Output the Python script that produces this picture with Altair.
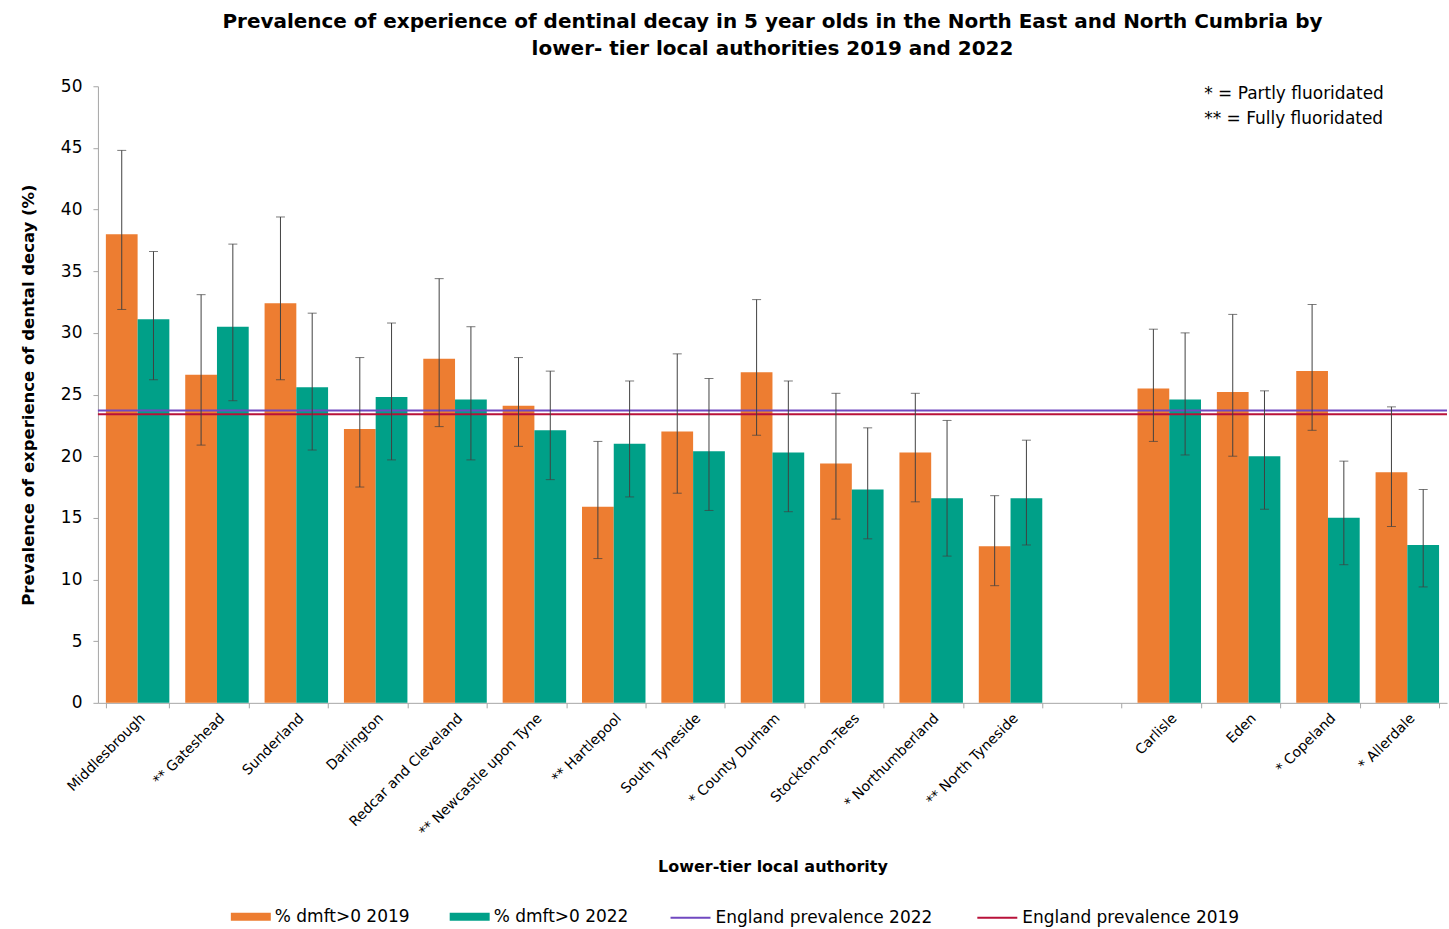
import altair as alt
import pandas as pd

title_lines = [
    "Prevalence of experience of dentinal decay in 5 year olds in the North East and North Cumbria by",
    "lower- tier local authorities 2019 and 2022",
]
annotation_lines = ["* = Partly  fluoridated", "** = Fully  fluoridated"]

authorities = [
    "Middlesbrough", "** Gateshead", "Sunderland", "Darlington", "Redcar and Cleveland",
    "** Newcastle upon Tyne", "** Hartlepool", "South Tyneside", "* County Durham",
    "Stockton-on-Tees", "* Northumberland", "** North Tyneside",
    "Carlisle", "Eden", "* Copeland", "* Allerdale",
]
gap_label = " "
x_order = authorities[:12] + [gap_label] + authorities[12:]

bar_series = ["% dmft>0 2019", "% dmft>0 2022"]
bar_colors = ["#ED7D31", "#00A088"]

v2019 = [38.0, 26.6, 32.4, 22.2, 27.9, 24.1, 15.9, 22.0, 26.8, 19.4, 20.3, 12.7, 25.5, 25.2, 26.9, 18.7]
lo2019 = [31.9, 20.9, 26.2, 17.5, 22.4, 20.8, 11.7, 17.0, 21.7, 14.9, 16.3, 9.5, 21.2, 20.0, 22.1, 14.3]
hi2019 = [44.8, 33.1, 39.4, 28.0, 34.4, 28.0, 21.2, 28.3, 32.7, 25.1, 25.1, 16.8, 30.3, 31.5, 32.3, 24.0]
v2022 = [31.1, 30.5, 25.6, 24.8, 24.6, 22.1, 21.0, 20.4, 20.3, 17.3, 16.6, 16.6, 24.6, 20.0, 15.0, 12.8]
lo2022 = [26.2, 24.5, 20.5, 19.7, 19.7, 18.1, 16.7, 15.6, 15.5, 13.3, 11.9, 12.8, 20.1, 15.7, 11.2, 9.4]
hi2022 = [36.6, 37.2, 31.6, 30.8, 30.5, 26.9, 26.1, 26.3, 26.1, 22.3, 22.9, 21.3, 30.0, 25.3, 19.6, 17.3]

england_series = ["England prevalence 2022", "England prevalence 2019"]
england_values = [23.7, 23.4]
england_colors = ["#7048C0", "#B8123A"]

rows = []
for i, a in enumerate(authorities):
    rows.append({"authority": a, "series": bar_series[0], "value": v2019[i], "lo": lo2019[i], "hi": hi2019[i]})
    rows.append({"authority": a, "series": bar_series[1], "value": v2022[i], "lo": lo2022[i], "hi": hi2022[i]})
df = pd.DataFrame(rows)
eng = pd.DataFrame({"line": england_series, "value": england_values})

FONT = "DejaVu Sans"

x_enc = alt.X(
    "authority:N",
    scale=alt.Scale(domain=x_order, paddingInner=0.2, paddingOuter=0.1),
    sort=x_order,
    axis=alt.Axis(
        title="Lower-tier local authority",
        labelAngle=-45,
        labelFontSize=14,
        labelColor="#000000",
        labelFont=FONT,
        tickBand="extent",
        domainColor="#A6A6A6",
        tickColor="#A6A6A6",
        tickSize=5,
        titleFontSize=16,
        titleFont=FONT,
        titleFontWeight="bold",
        titlePadding=20,
        labelPadding=3,
    ),
)
xo_enc = alt.XOffset("series:N", scale=alt.Scale(domain=bar_series, paddingInner=0, paddingOuter=0))
y_scale = alt.Scale(domain=[0, 50])

legend_common = dict(
    title=None,
    orient="none",
    direction="horizontal",
    labelFontSize=17,
    labelFont=FONT,
    labelColor="#000000",
    labelLimit=0,
    columnPadding=40,
    labelOffset=4,
    padding=0,
)

base = alt.Chart(df)

bars = base.mark_bar().encode(
    x=x_enc,
    xOffset=xo_enc,
    y=alt.Y(
        "value:Q",
        scale=y_scale,
        axis=alt.Axis(
            title="Prevalence of experience of dental decay (%)",
            values=list(range(0, 51, 5)),
            grid=False,
            labelFontSize=17,
            labelFont=FONT,
            labelColor="#000000",
            labelPadding=11,
            domainColor="#A6A6A6",
            tickColor="#A6A6A6",
            tickSize=5,
            titleFontSize=16.5,
            titleFont=FONT,
            titleFontWeight="bold",
            titlePadding=24,
        ),
    ),
    fill=alt.Fill(
        "series:N",
        scale=alt.Scale(domain=bar_series, range=bar_colors),
        legend=alt.Legend(
            symbolType="M-1,-0.2H1V0.2H-1Z",
            symbolSize=1600,
            symbolStrokeWidth=0,
            legendX=133,
            legendY=811,
            **legend_common,
        ),
    ),
)

err = base.mark_rule(color="#404040", strokeWidth=1).encode(
    x=x_enc, xOffset=xo_enc, y=alt.Y("lo:Q", scale=y_scale), y2="hi:Q"
)
cap_lo = base.mark_tick(color="#404040", size=9, thickness=1).encode(
    x=x_enc, xOffset=xo_enc, y=alt.Y("lo:Q", scale=y_scale)
)
cap_hi = base.mark_tick(color="#404040", size=9, thickness=1).encode(
    x=x_enc, xOffset=xo_enc, y=alt.Y("hi:Q", scale=y_scale)
)

lines = alt.Chart(eng).mark_rule(strokeWidth=2).encode(
    y=alt.Y("value:Q", scale=y_scale),
    stroke=alt.Stroke(
        "line:N",
        scale=alt.Scale(domain=england_series, range=england_colors),
        legend=alt.Legend(
            symbolType="stroke",
            symbolSize=1600,
            symbolStrokeWidth=2,
            legendX=572,
            legendY=811,
            **legend_common,
        ),
    ),
)

note = alt.Chart(pd.DataFrame({"t": [0]})).mark_text(
    text=annotation_lines,
    align="left",
    baseline="top",
    font=FONT,
    fontSize=17,
    lineHeight=25,
    color="#000000",
).encode(x=alt.value(1107), y=alt.value(0))

chart = (
    alt.layer(bars, lines, err, cap_lo, cap_hi, note)
    .resolve_scale(x="shared", y="shared")
    .properties(
        width=1350,
        height=617,
        title=alt.TitleParams(
            text=title_lines,
            fontSize=20,
            font=FONT,
            fontWeight="bold",
            anchor="middle",
            color="#000000",
            offset=18,
            lineHeight=27,
        ),
        padding={"left": 20, "right": 1, "top": 12, "bottom": 2},
    )
    .configure_view(stroke=None)
)

chart.save("out.html", embed_options={"renderer": "svg", "actions": False})
